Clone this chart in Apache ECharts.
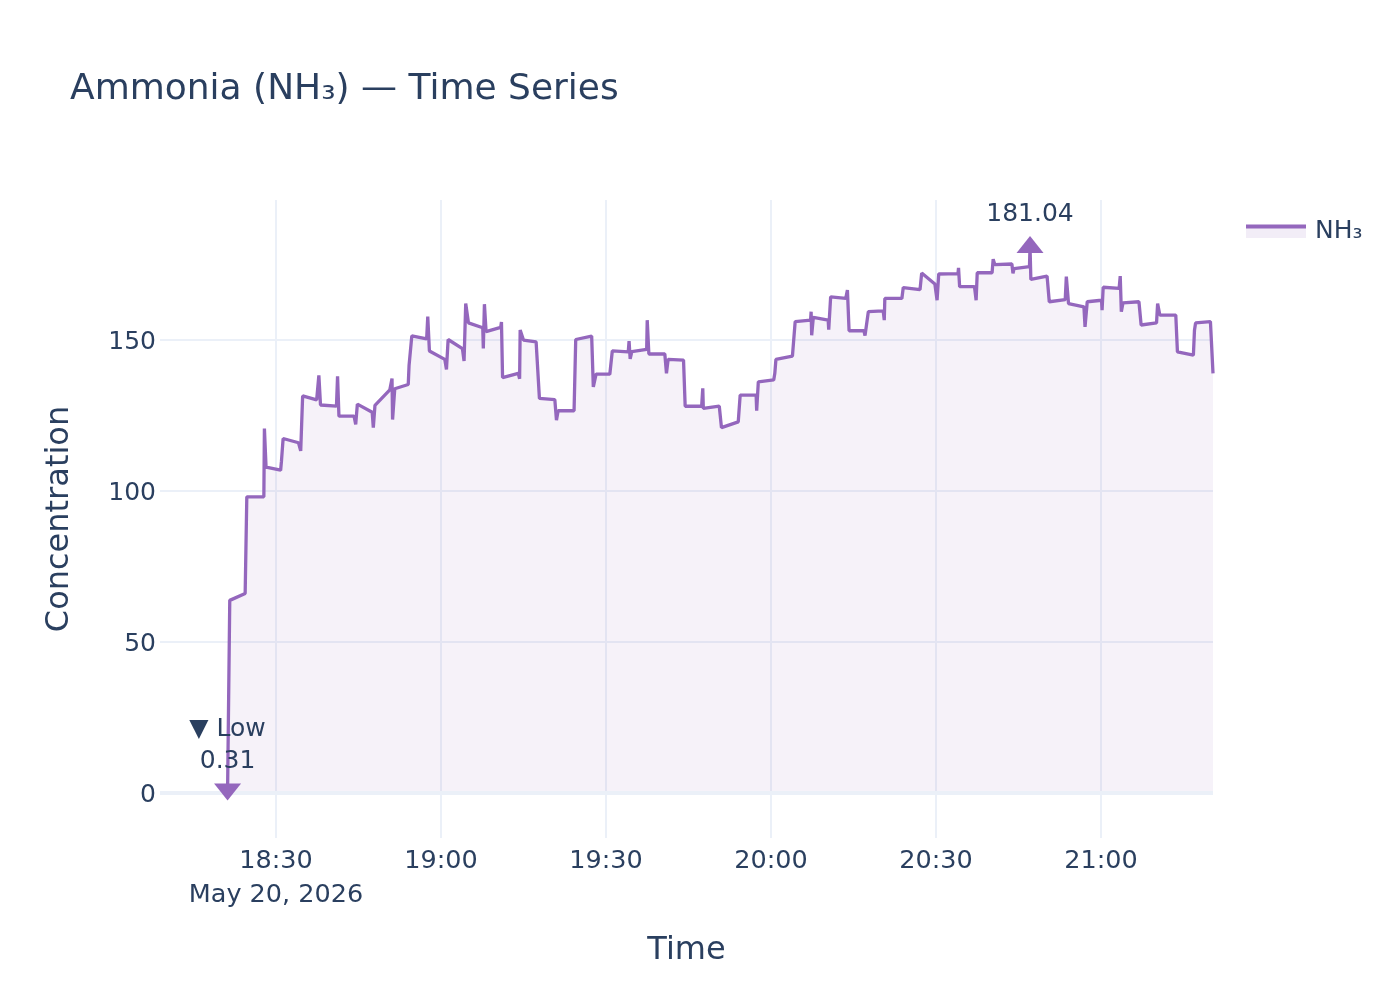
<!DOCTYPE html>
<html>
<head>
<meta charset="utf-8">
<script src="https://cdn.jsdelivr.net/npm/echarts@6/dist/echarts.min.js"></script>
<style>
  html, body { margin: 0; padding: 0; background: #ffffff; }
  #chart { width: 1400px; height: 1000px; }
</style>
</head>
<body>
<div id="chart"></div>
<script>
// ---- data ----
const dateStr = '2026-05-20';
const times = [
  '18:21:12','18:21:36','18:24:24','18:24:42','18:27:48','18:27:54','18:28:12','18:30:51','18:31:00','18:31:18',
  '18:34:06','18:34:30','18:34:51','18:37:24','18:37:48','18:38:06','18:41:00','18:41:12','18:41:27','18:44:12',
  '18:44:30','18:44:48','18:47:30','18:47:42','18:48:00','18:50:42','18:51:06','18:51:12','18:51:36','18:54:03',
  '18:54:12','18:54:42','18:57:24','18:57:36','18:57:54','19:00:42','19:01:00','19:01:18','19:03:54','19:04:12',
  '19:04:30','19:05:00','19:07:36','19:07:42','19:07:54','19:08:12','19:10:51','19:11:00','19:11:12','19:14:03',
  '19:14:18','19:14:24','19:15:00','19:17:18','19:17:54','19:20:42','19:21:00','19:21:18','19:24:12','19:24:30',
  '19:27:24','19:27:42','19:28:12','19:30:42','19:31:09','19:34:03','19:34:12','19:34:24','19:34:42','19:37:24',
  '19:37:30','19:37:48','19:40:42','19:41:00','19:41:18','19:44:06','19:44:24','19:47:24','19:47:36','19:47:42',
  '19:50:36','19:51:00','19:54:03','19:54:24','19:57:18','19:57:24','19:57:42','20:00:30','20:00:42','20:00:54',
  '20:03:54','20:04:24','20:07:12','20:07:18','20:07:24','20:07:42','20:10:24','20:10:30','20:10:51','20:13:36',
  '20:13:54','20:14:12','20:16:54','20:17:06','20:17:42','20:20:24','20:20:36','20:20:42','20:23:48','20:24:03',
  '20:27:06','20:27:24','20:29:48','20:30:12','20:30:30','20:34:00','20:34:06','20:34:18','20:37:00','20:37:18',
  '20:37:30','20:40:12','20:40:24','20:40:42','20:43:48','20:44:00','20:44:12','20:47:00','20:47:06','20:47:15',
  '20:50:12','20:50:36','20:53:30','20:53:42','20:54:06','20:56:54','20:57:06','20:57:30','21:00:06','21:00:12',
  '21:00:24','21:03:18','21:03:30','21:03:42','21:04:00','21:06:54','21:07:18','21:10:06','21:10:18','21:10:42',
  '21:13:36','21:13:54','21:16:48','21:17:00','21:17:12','21:19:54','21:20:22'
];
const nh3 = [
  0.31, 63.8, 66.1, 98.1, 98.1, 120.7, 107.9, 106.9, 109.9, 117.4,
  116.0, 113.3, 131.5, 130.2, 138.3, 128.5, 128.1, 138.0, 124.8, 124.8,
  122.1, 128.8, 126.1, 121.0, 128.4, 133.5, 137.3, 123.7, 133.9, 135.3,
  141.6, 151.4, 150.4, 157.8, 146.4, 143.6, 140.3, 150.2, 147.2, 143.1,
  162.1, 155.7, 154.1, 147.2, 161.9, 152.8, 154.2, 156.0, 137.6, 139.0,
  137.2, 153.3, 150.0, 149.4, 130.7, 130.3, 123.5, 126.6, 126.6, 150.2,
  151.3, 134.5, 138.7, 138.7, 146.4, 146.1, 149.7, 143.8, 146.2, 146.9,
  156.6, 145.4, 145.4, 139.0, 143.6, 143.4, 128.1, 128.1, 134.0, 127.4,
  128.1, 121.0, 122.9, 131.8, 131.8, 126.6, 136.2, 136.8, 139.0, 143.6,
  144.7, 156.1, 156.6, 159.4, 151.6, 157.5, 156.6, 153.5, 164.3, 163.8,
  166.6, 153.1, 153.1, 151.5, 159.4, 159.7, 156.6, 163.8, 163.8, 167.4,
  166.7, 172.2, 168.6, 163.2, 171.9, 172.0, 173.9, 167.7, 167.7, 163.2,
  172.3, 172.3, 176.8, 175.0, 175.2, 172.1, 173.7, 174.3, 181.04, 170.1,
  171.2, 162.7, 163.4, 171.0, 162.1, 161.0, 154.4, 162.7, 163.2, 159.9,
  167.5, 167.1, 171.2, 159.4, 162.3, 162.7, 155.0, 155.7, 162.1, 158.3,
  158.3, 146.1, 145.0, 153.3, 155.7, 156.1, 139.0
];
const xTickTimes = ['18:30', '19:00', '19:30', '20:00', '20:30', '21:00'];
const yTickValues = [0, 50, 100, 150];
const xRange = ['18:08:55', '21:20:22'];
const yRange = [-14.9, 196.4];
const seriesName = 'NH\u2083';
const titleText = 'Ammonia (NH\u2083) \u2014 Time Series';
const dateLabel = 'May 20, 2026';

// ---- build ----
const ts = t => +echarts.time.parse(dateStr + ' ' + (t.length === 5 ? t + ':00' : t));
const seriesData = times.map((t, i) => [ts(t), nh3[i]]);
const xTicks = xTickTimes.map(ts);
const maxV = Math.max(...nh3), minV = Math.min(...nh3);
const iMax = nh3.indexOf(maxV), iMin = nh3.indexOf(minV);

const FONT = 'DejaVu Sans';
const TXT = '#2a3f5f';
const PURPLE = '#9467bd';
const GRID = '#EBF0F8';
const FILL = 'rgba(148,103,189,0.12)';

const chart = echarts.init(document.getElementById('chart'), null, { renderer: 'canvas' });
chart.setOption({
  animation: false,
  backgroundColor: '#ffffff',
  textStyle: { fontFamily: FONT },
  title: {
    text: titleText, left: 70, top: 72, padding: 0,
    textStyle: { fontFamily: FONT, fontSize: 36, fontWeight: 'normal', color: TXT }
  },
  legend: {
    left: 1246, top: 219, padding: 0,
    icon: 'path://M0,0H60V4H0ZM0,13.9H0.1V14H0Z', itemWidth: 60, itemHeight: 14, itemGap: 10,
    data: [seriesName],
    textStyle: { fontFamily: FONT, fontSize: 25, color: TXT, padding: [0, 0, 0, 4] }
  },
  graphic: [{
    type: 'rect', left: 1246, top: 228, silent: true,
    shape: { width: 60, height: 10 },
    style: { fill: FILL }
  }],
  grid: { left: 160, right: 187, top: 200, bottom: 162, containLabel: false, outerBoundsMode: 'none' },
  xAxis: {
    type: 'value',
    min: ts(xRange[0]), max: ts(xRange[1]),
    name: 'Time', nameLocation: 'middle', nameGap: 96.5,
    nameTextStyle: { fontFamily: FONT, fontSize: 32, color: TXT },
    axisLine: { show: false },
    axisTick: { show: false, customValues: xTicks },
    splitLine: { show: true, lineStyle: { color: GRID, width: 2 } },
    axisLabel: {
      customValues: xTicks,
      margin: 6, lineHeight: 34,
      fontFamily: FONT, fontSize: 25.5, color: TXT,
      formatter: (v) => {
        const d = new Date(v);
        const s = String(d.getHours()).padStart(2, '0') + ':' + String(d.getMinutes()).padStart(2, '0');
        return v === xTicks[0] ? s + '\n' + dateLabel : s;
      }
    }
  },
  yAxis: {
    type: 'value',
    min: yRange[0], max: yRange[1],
    name: 'Concentration', nameLocation: 'middle', nameGap: 84.5, nameRotate: 90,
    nameTextStyle: { fontFamily: FONT, fontSize: 32, color: TXT },
    axisLine: { show: false },
    axisTick: { show: false, customValues: yTickValues },
    splitLine: { show: true, lineStyle: { color: GRID, width: 2 } },
    axisLabel: { customValues: yTickValues, margin: 4, lineHeight: 29, verticalAlign: 'top', padding: [-12, 0, 0, 0],
                 fontFamily: FONT, fontSize: 25, color: TXT }
  },
  series: [{
    name: seriesName,
    type: 'line',
    data: seriesData,
    showSymbol: false, symbol: 'none',
    lineStyle: { color: PURPLE, width: 3.3 },
    itemStyle: { color: PURPLE },
    areaStyle: { color: FILL },
    markLine: {
      silent: true, symbol: 'none', label: { show: false },
      lineStyle: { color: GRID, width: 4, type: 'solid' },
      data: [{ yAxis: 0 }]
    },
    markPoint: {
      silent: true,
      data: [
        {
          coord: seriesData[iMax], symbol: 'triangle', symbolSize: [27, 17], symbolOffset: [0, -2],
          itemStyle: { color: PURPLE },
          label: { show: true, position: 'top', distance: 9, formatter: String(maxV),
                   fontFamily: FONT, fontSize: 25, color: TXT }
        },
        {
          coord: seriesData[iMin], symbol: 'triangle', symbolRotate: 180, symbolSize: [27, 17],
          itemStyle: { color: PURPLE },
          label: { show: true, position: 'top', distance: 6, formatter: '\u25BC Low\n' + String(minV),
                   lineHeight: 32, align: 'center',
                   fontFamily: FONT, fontSize: 25, color: TXT }
        }
      ]
    }
  }]
});
</script>
</body>
</html>
